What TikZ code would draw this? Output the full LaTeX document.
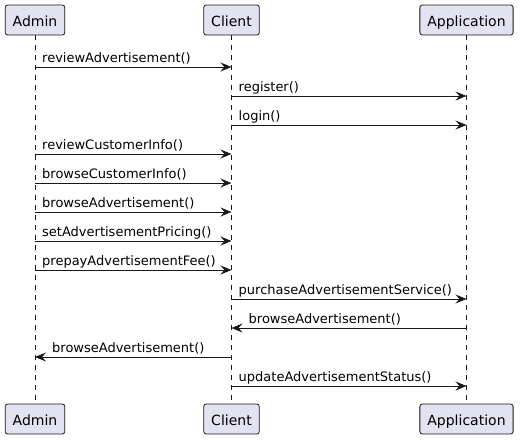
\documentclass[tikz,border=0pt]{standalone}
\usepackage{fontspec}
\setmainfont{DejaVu Sans}
\usetikzlibrary{arrows.meta}
\definecolor{partfill}{HTML}{E2E2F0}
\definecolor{partline}{HTML}{181818}
\tikzset{
  part/.style={draw=partline, fill=partfill, rounded corners=2.5pt, line width=0.8pt,
    minimum height=30pt, inner xsep=7.5pt, inner ysep=0pt, text height=13pt, text depth=0pt,
    font=\fontsize{14}{16}\selectfont, text=black},
  life/.style={draw=partline, line width=0.6pt, dash pattern=on 5pt off 5pt},
  msg/.style={draw=partline, line width=0.9pt, -{Stealth[length=11pt,width=9pt,inset=4pt]}},
  lbl/.style={font=\fontsize{13}{15}\selectfont, anchor=base west, inner sep=0pt, text=black}
}
\begin{document}
\begin{tikzpicture}[x=1pt,y=-1pt]
\useasboundingbox (0,0) rectangle (520,440);
% participants
\node[part] (adminT) at (35,20) {Admin};
\node[part] (clientT) at (231.5,20) {Client};
\node[part] (appT) at (466.5,20) {Application};
\node[part] (adminB) at (35,419) {Admin};
\node[part] (clientB) at (231.5,419) {Client};
\node[part] (appB) at (466.5,419) {Application};
\draw[life] (adminT.south) -- (adminB.north);
\draw[life] (clientT.south) -- (clientB.north);
\draw[life] (appT.south) -- (appB.north);
% message anchors
\foreach \i/\y in {1/67,2/96,3/125,4/154,5/183,6/212,7/241,8/270,9/299,10/328,11/357,12/386}{
  \coordinate (a\i) at (35,\y);
  \coordinate (c\i) at (231.5,\y);
  \coordinate (p\i) at (466.5,\y);
}
\draw[msg] (a1) -- (c1);
\node[lbl] (m1) at ([xshift=7pt,yshift=5pt]a1) {reviewAdvertisement()};
\draw[msg] (c2) -- (p2);
\node[lbl] (m2) at ([xshift=7pt,yshift=5pt]c2) {register()};
\draw[msg] (c3) -- (p3);
\node[lbl] (m3) at ([xshift=7pt,yshift=5pt]c3) {login()};
\draw[msg] (a4) -- (c4);
\node[lbl] (m4) at ([xshift=7pt,yshift=5pt]a4) {reviewCustomerInfo()};
\draw[msg] (a5) -- (c5);
\node[lbl] (m5) at ([xshift=7pt,yshift=5pt]a5) {browseCustomerInfo()};
\draw[msg] (a6) -- (c6);
\node[lbl] (m6) at ([xshift=7pt,yshift=5pt]a6) {browseAdvertisement()};
\draw[msg] (a7) -- (c7);
\node[lbl] (m7) at ([xshift=7pt,yshift=5pt]a7) {setAdvertisementPricing()};
\draw[msg] (a8) -- (c8);
\node[lbl] (m8) at ([xshift=7pt,yshift=5pt]a8) {prepayAdvertisementFee()};
\draw[msg] (c9) -- (p9);
\node[lbl] (m9) at ([xshift=7pt,yshift=5pt]c9) {purchaseAdvertisementService()};
\draw[msg] (p10) -- (c10);
\node[lbl] (m10) at ([xshift=17pt,yshift=5pt]c10) {browseAdvertisement()};
\draw[msg] (c11) -- (a11);
\node[lbl] (m11) at ([xshift=17pt,yshift=5pt]a11) {browseAdvertisement()};
\draw[msg] (c12) -- (p12);
\node[lbl] (m12) at ([xshift=7pt,yshift=5pt]c12) {updateAdvertisementStatus()};
\end{tikzpicture}
\end{document}
